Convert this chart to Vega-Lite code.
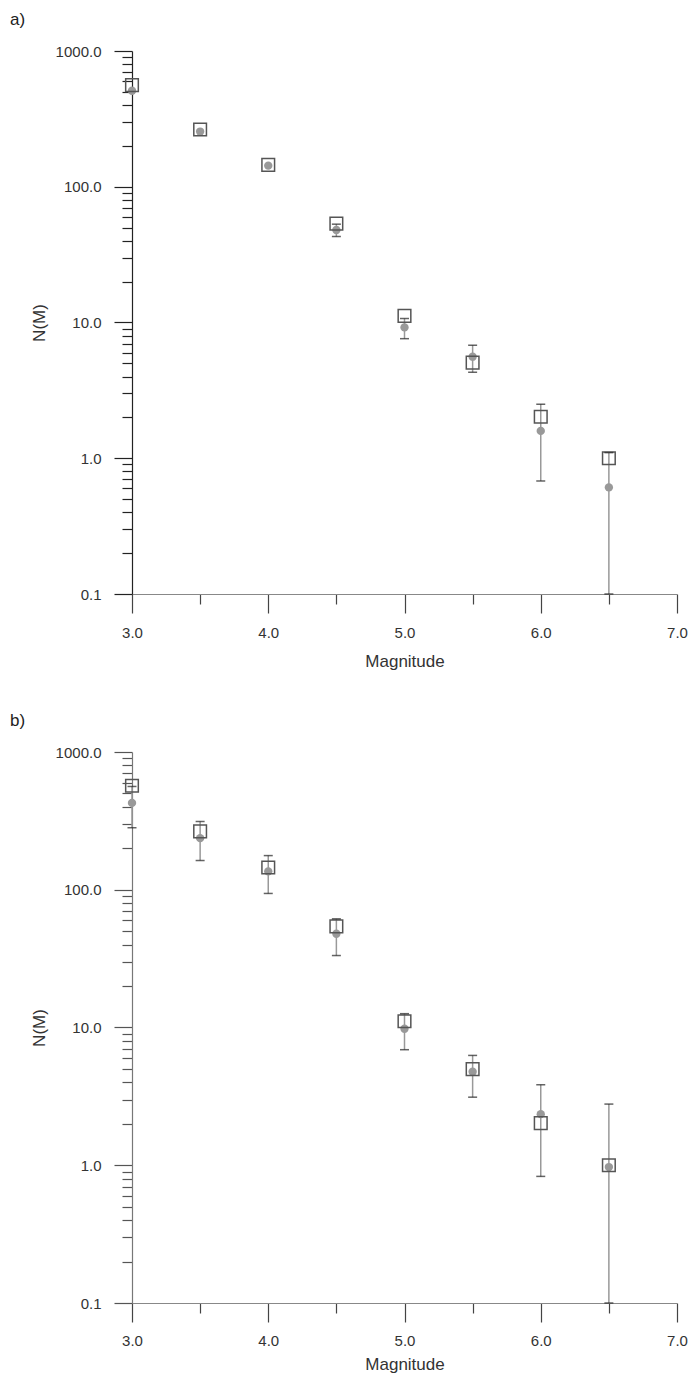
{
  "$schema": "https://vega.github.io/schema/vega-lite/v6.json",
  "padding": {"left": 10, "top": 11, "right": 5, "bottom": 5},
  "spacing": 43,
  "datasets": {
    "a": [
      {"M": 3.0, "obs": 560, "pred": 510, "lo": null, "hi": null},
      {"M": 3.5, "obs": 264, "pred": 255, "lo": null, "hi": null},
      {"M": 4.0, "obs": 145, "pred": 143, "lo": null, "hi": null},
      {"M": 4.5, "obs": 53.5, "pred": 48, "lo": 43, "hi": 53},
      {"M": 5.0, "obs": 11.2, "pred": 9.2, "lo": 7.6, "hi": 10.7},
      {"M": 5.5, "obs": 5.06, "pred": 5.6, "lo": 4.3, "hi": 6.8},
      {"M": 6.0, "obs": 2.02, "pred": 1.59, "lo": 0.68, "hi": 2.5},
      {"M": 6.5, "obs": 1.0, "pred": 0.61, "lo": 0.1, "hi": 1.1}
    ],
    "b": [
      {"M": 3.0, "obs": 569, "pred": 427, "lo": 282, "hi": 562},
      {"M": 3.5, "obs": 265, "pred": 237, "lo": 163, "hi": 313},
      {"M": 4.0, "obs": 145, "pred": 136, "lo": 94, "hi": 177},
      {"M": 4.5, "obs": 54.2, "pred": 47.9, "lo": 33.3, "hi": 61.5},
      {"M": 5.0, "obs": 11.1, "pred": 9.8, "lo": 6.9, "hi": 12.6},
      {"M": 5.5, "obs": 4.99, "pred": 4.77, "lo": 3.12, "hi": 6.27},
      {"M": 6.0, "obs": 2.02, "pred": 2.35, "lo": 0.83, "hi": 3.84},
      {"M": 6.5, "obs": 1.0, "pred": 0.97, "lo": 0.1, "hi": 2.78}
    ]
  },
  "config": {
    "view": {"stroke": null},
    "font": "Liberation Sans",
    "axis": {"grid": false, "labelFont": "Liberation Sans", "titleFont": "Liberation Sans", "labelColor": "#333", "titleColor": "#333", "labelFontSize": 15, "titleFontSize": 17, "titleFontWeight": "normal", "labelOverlap": false, "labelFlush": false, "tickWidth": 1.2, "domainWidth": 1.2},
    "title": {"font": "Liberation Sans", "fontSize": 17, "fontWeight": "normal", "color": "#222", "anchor": "start", "frame": "bounds"}
  },
  "vconcat": [
    {
      "title": {"text": "a)", "dx": -20, "offset": 15},
      "width": 545,
      "height": 543,
      "data": {"name": "a"},
      "encoding": {
        "x": {"field": "M", "type": "quantitative", "scale": {"domain": [3, 7], "nice": false},
          "axis": {"values": [3, 3.5, 4, 4.5, 5, 5.5, 6, 6.5, 7], "title": "Magnitude", "labelExpr": "datum.value % 1 == 0 ? format(datum.value, '.1f') : ''", "tickSize": {"condition": {"test": "datum.value % 1 == 0", "value": 19}, "value": 10}, "labelPadding": 12, "titlePadding": 13, "domainColor": "#888", "tickColor": "#444"}}
      },
      "layer": [
        {
          "mark": {"type": "rule", "color": "#999", "strokeWidth": 1.5},
          "encoding": {
            "y": {"field": "lo", "type": "quantitative", "scale": {"type": "log", "domain": [0.1, 1000], "nice": false},
              "axis": {"values": [0.1, 0.2, 0.3, 0.4, 0.5, 0.6, 0.7, 0.8, 0.9, 1, 2, 3, 4, 5, 6, 7, 8, 9, 10, 20, 30, 40, 50, 60, 70, 80, 90, 100, 200, 300, 400, 500, 600, 700, 800, 900, 1000], "title": "N(M)", "labelExpr": "abs(log(datum.value)/LN10 - round(log(datum.value)/LN10)) < 0.001 ? format(datum.value, '.1f') : ''", "tickSize": {"condition": {"test": "abs(log(datum.value)/LN10 - round(log(datum.value)/LN10)) < 0.001", "value": 18}, "value": 10}, "labelPadding": 13, "titlePadding": 7, "domainColor": "#222", "tickColor": "#222"}},
            "y2": {"field": "hi"}
          }
        },
        {
          "mark": {"type": "point", "shape": "circle", "filled": true, "color": "#999", "opacity": 1, "size": 70},
          "encoding": {"y": {"field": "pred", "type": "quantitative", "title": "N(M)"}}
        },
        {
          "mark": {"type": "point", "shape": "square", "filled": false, "color": "#555", "opacity": 1, "strokeWidth": 1.5, "size": 160},
          "encoding": {"y": {"field": "obs", "type": "quantitative", "title": "N(M)"}}
        },
        {
          "mark": {"type": "tick", "orient": "horizontal", "color": "#222", "thickness": 1.5, "size": 9},
          "encoding": {"y": {"field": "lo", "type": "quantitative", "title": "N(M)"}}
        },
        {
          "mark": {"type": "tick", "orient": "horizontal", "color": "#222", "thickness": 1.5, "size": 9},
          "encoding": {"y": {"field": "hi", "type": "quantitative", "title": "N(M)"}}
        }
      ]
    },
    {
      "title": {"text": "b)", "dx": -20, "offset": 15},
      "width": 545,
      "height": 551,
      "data": {"name": "b"},
      "encoding": {
        "x": {"field": "M", "type": "quantitative", "scale": {"domain": [3, 7], "nice": false},
          "axis": {"values": [3, 3.5, 4, 4.5, 5, 5.5, 6, 6.5, 7], "title": "Magnitude", "labelExpr": "datum.value % 1 == 0 ? format(datum.value, '.1f') : ''", "tickSize": {"condition": {"test": "datum.value % 1 == 0", "value": 19}, "value": 10}, "labelPadding": 11, "titlePadding": 8, "domainColor": "#888", "tickColor": "#444"}}
      },
      "layer": [
        {
          "mark": {"type": "rule", "color": "#999", "strokeWidth": 1.5},
          "encoding": {
            "y": {"field": "lo", "type": "quantitative", "scale": {"type": "log", "domain": [0.1, 1000], "nice": false},
              "axis": {"values": [0.1, 0.2, 0.3, 0.4, 0.5, 0.6, 0.7, 0.8, 0.9, 1, 2, 3, 4, 5, 6, 7, 8, 9, 10, 20, 30, 40, 50, 60, 70, 80, 90, 100, 200, 300, 400, 500, 600, 700, 800, 900, 1000], "title": "N(M)", "labelExpr": "abs(log(datum.value)/LN10 - round(log(datum.value)/LN10)) < 0.001 ? format(datum.value, '.1f') : ''", "tickSize": {"condition": {"test": "abs(log(datum.value)/LN10 - round(log(datum.value)/LN10)) < 0.001", "value": 18}, "value": 10}, "labelPadding": 13, "titlePadding": 7, "domainColor": "#777", "tickColor": "#555"}},
            "y2": {"field": "hi"}
          }
        },
        {
          "mark": {"type": "point", "shape": "circle", "filled": true, "color": "#999", "opacity": 1, "size": 70},
          "encoding": {"y": {"field": "pred", "type": "quantitative", "title": "N(M)"}}
        },
        {
          "mark": {"type": "point", "shape": "square", "filled": false, "color": "#555", "opacity": 1, "strokeWidth": 1.5, "size": 160},
          "encoding": {"y": {"field": "obs", "type": "quantitative", "title": "N(M)"}}
        },
        {
          "mark": {"type": "tick", "orient": "horizontal", "color": "#222", "thickness": 1.5, "size": 9},
          "encoding": {"y": {"field": "lo", "type": "quantitative", "title": "N(M)"}}
        },
        {
          "mark": {"type": "tick", "orient": "horizontal", "color": "#222", "thickness": 1.5, "size": 9},
          "encoding": {"y": {"field": "hi", "type": "quantitative", "title": "N(M)"}}
        }
      ]
    }
  ]
}
